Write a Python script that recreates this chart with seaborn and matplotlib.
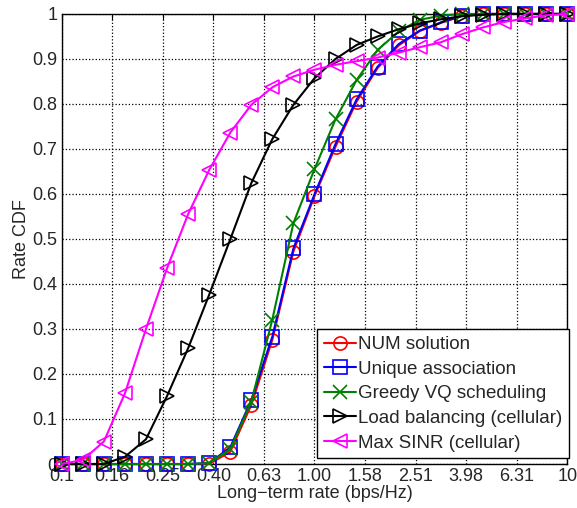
import numpy as np
import pandas as pd
import matplotlib
matplotlib.use("Agg")
import matplotlib.pyplot as plt
import seaborn as sns

# --- data (25 log-spaced rate points) ---
rate = 10 ** np.linspace(-1, 1, 25)

num_solution = [0, 0, 0, 0, 0, 0, 0, 0, 0.027, 0.131, 0.276, 0.472, 0.595,
                0.705, 0.805, 0.88, 0.93, 0.962, 0.98, 0.995, 1, 1, 1, 1, 1]
unique_assoc = [0, 0, 0, 0, 0, 0, 0, 0.002, 0.037, 0.142, 0.283, 0.479, 0.599,
                0.711, 0.81, 0.883, 0.933, 0.963, 0.981, 0.996, 1, 1, 1, 1, 1]
greedy_vq = [0, 0, 0, 0, 0, 0, 0, 0.002, 0.033, 0.138, 0.321, 0.535, 0.655,
             0.766, 0.853, 0.92, 0.961, 0.987, 0.996, 1, 1, 1, 1, 1, 1]
load_bal = [0, 0, 0, 0.016, 0.055, 0.151, 0.257, 0.376, 0.499, 0.624, 0.722,
            0.798, 0.857, 0.90, 0.931, 0.95, 0.966, 0.979, 0.988, 0.995,
            0.998, 1, 1, 1, 1]
max_sinr = [0, 0.009, 0.05, 0.157, 0.30, 0.435, 0.555, 0.653, 0.736, 0.798,
            0.837, 0.861, 0.876, 0.887, 0.895, 0.903, 0.914, 0.926, 0.937,
            0.955, 0.97, 0.982, 0.99, 0.997, 1.0]

series = [
    ("NUM solution", num_solution, "#ff0000", "o"),
    ("Unique association", unique_assoc, "#0000ff", "s"),
    ("Greedy VQ scheduling", greedy_vq, "#008000", "x"),
    ("Load balancing (cellular)", load_bal, "#000000", ">"),
    ("Max SINR (cellular)", max_sinr, "#ff00ff", "<"),
]

xticks = 10 ** (np.arange(-5, 6) / 5)
xtick_labels = ["0.1", "0.16", "0.25", "0.40", "0.63", "1.00", "1.58",
                "2.51", "3.98", "6.31", "10"]
yticks = np.round(np.arange(0, 1.01, 0.1), 1)
ytick_labels = ["0"] + [f"{v:.1f}" for v in yticks[1:-1]] + ["1"]

sns.set_style("white")
plt.rcParams['font.family'] = ['Liberation Sans', 'DejaVu Sans']

fig = plt.figure(figsize=(5.77, 5.08), dpi=100)
ax = fig.add_axes([0.107, 0.0866, 0.876, 0.886])

for name, vals, col, mk in series:
    df = pd.DataFrame({"rate": rate, "cdf": vals})
    sns.lineplot(data=df, x="rate", y="cdf", ax=ax, color=col, marker=mk,
                 markersize=9.5, markerfacecolor="none", markeredgecolor=col,
                 markeredgewidth=1.2, linewidth=1.5, label=name, clip_on=False,
                 zorder=3)

ax.set_xscale("log")
ax.set_xlim(0.1, 10)
ax.set_ylim(0, 1)
ax.set_xticks(xticks)
ax.set_xticklabels(xtick_labels)
ax.minorticks_off()
ax.set_yticks(yticks)
ax.set_yticklabels(ytick_labels)
ax.grid(True, color="black", linestyle=":", linewidth=0.9)
ax.tick_params(direction="in", top=True, right=True, length=4, labelsize=13,
               color="black", pad=3)
for sp in ax.spines.values():
    sp.set_color("black")
    sp.set_linewidth(1.0)
    sp.set_zorder(2.5)

ax.set_xlabel("Long\u2212term rate (bps/Hz)", fontsize=13, labelpad=0)
ax.set_ylabel("Rate CDF", fontsize=13, labelpad=2)

leg = ax.legend(loc="lower right", bbox_to_anchor=(1.004, 0.013),
                fontsize=13.5, frameon=True, fancybox=False,
                edgecolor="black", framealpha=1, borderpad=0.35,
                labelspacing=0.4, handlelength=1.7, handletextpad=0.15,
                borderaxespad=0.0)
leg.get_frame().set_linewidth(1.0)
leg.set_zorder(5)

fig.savefig("out.png", dpi=100)
